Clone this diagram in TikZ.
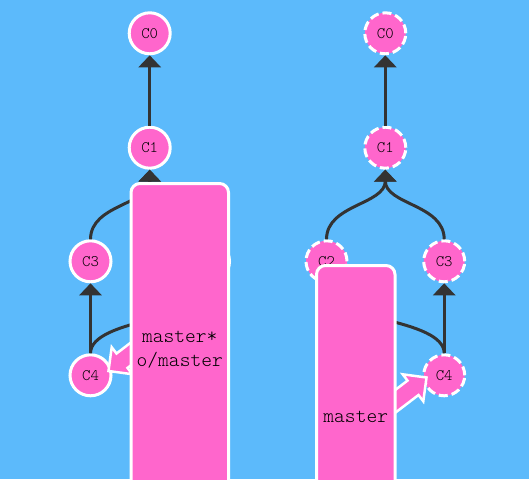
\documentclass[tikz,border=0pt]{standalone}
\usepackage{fontspec}
\newfontfamily\gitmono{Latin Modern Mono Light}
\usetikzlibrary{arrows.meta}
\definecolor{bgblue}{RGB}{92,186,251}
\definecolor{gitpink}{RGB}{255,102,204}
\definecolor{edgegray}{RGB}{51,51,51}
\tikzset{
  commit/.style={circle, draw=white, fill=gitpink, line width=3pt, minimum size=41pt, inner sep=0pt,
    text=black, font=\gitmono\fontsize{16}{18}\selectfont},
  ghost/.style={commit, dash pattern=on 9pt off 4pt},
  edge/.style={draw=edgegray, line width=3pt, -{Triangle[width=22pt,length=12pt]}},
  branchbox/.style={rectangle, draw=white, fill=gitpink, line width=3pt, rounded corners=9pt,
    outer sep=0pt, inner sep=0pt, anchor=north west},
  brancharrow/.style={draw=white, fill=gitpink, line width=2.5pt, line join=miter},
  lbl/.style={text=black, font=\gitmono\fontsize{20.5}{24}\selectfont, anchor=base, inner sep=0pt}
}
\begin{document}
\begin{tikzpicture}[x=1pt, y=-1pt]
\path[use as bounding box] (0,0) rectangle (529,479);
\clip (0,0) rectangle (529,479);
\fill[bgblue] (0,0) rectangle (529,479);

% ---------- left tree ----------
\node[commit] (c0) at (149.7,33.3) {C0};
\node[commit] (c1) at (149.7,147.7) {C1};
\node[commit] (c2) at (209,261.3) {C2};
\node[commit] (c3) at (90.5,261.3) {C3};
\node[commit] (c4) at (90.5,375.3) {C4};
\draw[edge] (c1.north) -- (c0.south);
\draw[edge] (c2.north) .. controls +(0,-35) and +(0,35) .. (c1.south);
\draw[edge] (c3.north) .. controls +(0,-35) and +(0,35) .. (c1.south);
\draw[edge] (c4.north) -- (c3.south);
\draw[edge] (c4.north) .. controls +(0,-35) and +(0,35) .. (c2.south);

% ---------- right tree ----------
\node[ghost] (d0) at (385.3,33.3) {C0};
\node[ghost] (d1) at (385.3,147.7) {C1};
\node[ghost] (d2) at (326.5,261.3) {C2};
\node[ghost] (d3) at (444.2,261.3) {C3};
\node[ghost] (d4) at (444.2,375.3) {C4};
\draw[edge] (d1.north) -- (d0.south);
\draw[edge] (d2.north) .. controls +(0,-35) and +(0,35) .. (d1.south);
\draw[edge] (d3.north) .. controls +(0,-35) and +(0,35) .. (d1.south);
\draw[edge] (d4.north) -- (d3.south);
\draw[edge] (d4.north) .. controls +(0,-35) and +(0,35) .. (d2.south);

% ---------- branch arrows ----------
\draw[brancharrow] (108.5,371) -- (111.7,347.2) -- (116.5,353.5) -- (164.2,317.1)
  -- (175.2,331.5) -- (127.5,367.9) -- (132.3,374.2) -- cycle;
\draw[brancharrow] (426.5,377.5) -- (402.7,374.3) -- (407.5,380.6) -- (359.8,417)
  -- (370.8,431.4) -- (418.5,395) -- (423.3,401.3) -- cycle;

% ---------- branch boxes ----------
\node[branchbox, minimum width=97.5pt, minimum height=400pt] (b1) at (131,183.5) {};
\node[branchbox, minimum width=78.5pt, minimum height=400pt] (b2) at (316.5,265.5) {};

\node[lbl] (l1) at (179.75,342) {master*};
\node[lbl] (l2) at (179.75,366) {o/master};
\node[lbl] (l3) at (355.75,422) {master};
\end{tikzpicture}
\end{document}
